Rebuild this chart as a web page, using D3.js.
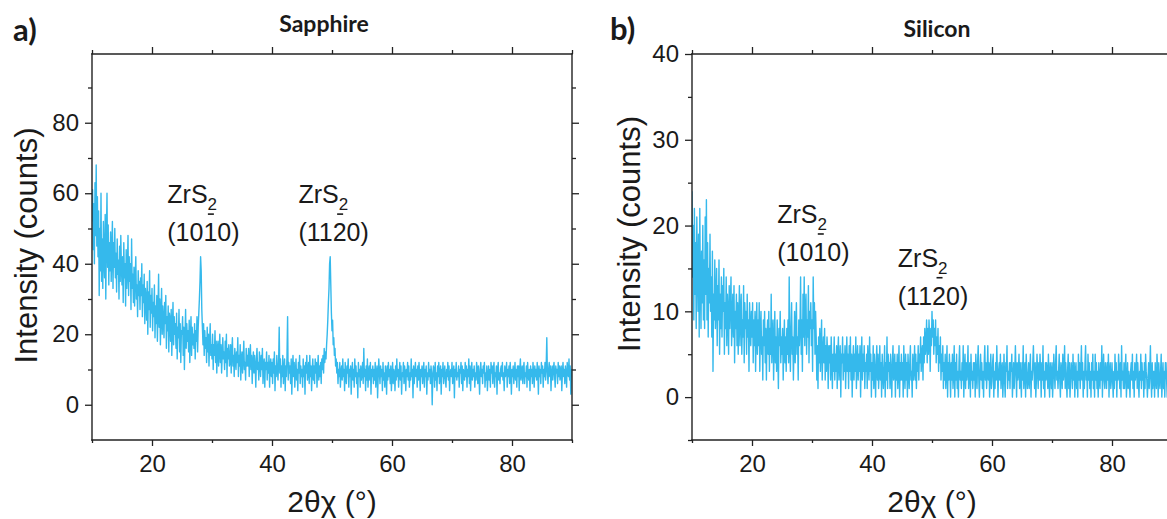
<!DOCTYPE html>
<html>
<head>
<script src="https://cdn.jsdelivr.net/npm/d3@7"></script>
<style>
body { margin: 0; background: #fff; }
svg text { font-family: "Liberation Sans", Arial, sans-serif; fill: #1a1a1a; }
.panel-title, .panel-tag { font-family: Lato, "Open Sans", sans-serif; font-weight: bold; }
</style>
</head>
<body>
<script>
// 2theta-chi scan, one sample every 0.1 deg from 10 to 90 deg
var twoThetaStart = 10, twoThetaStep = 0.1;

// Sapphire counts, one row per degree
var sapphireCounts = [
  52, 61, 44, 57, 40, 63, 48, 68, 45, 59,
  42, 55, 31, 50, 38, 60, 35, 47, 33, 52,
  41, 36, 54, 30, 48, 60, 39, 51, 34, 46,
  38, 49, 35, 44, 52, 33, 46, 39, 50, 36,
  43, 32, 47, 37, 41, 30, 45, 35, 48, 39,
  34, 42, 29, 46, 36, 40, 28, 44, 33, 38,
  48, 31, 42, 35, 40, 27, 47, 33, 37, 29,
  39, 28, 36, 42, 30, 34, 25, 38, 31, 35,
  27, 36, 31, 40, 25, 34, 29, 37, 23, 33,
  30, 24, 35, 20, 32, 27, 38, 22, 31, 26,
  33, 21, 29, 25, 34, 19, 28, 23, 31, 18,
  27, 37, 22, 30, 17, 26, 33, 20, 28, 24,
  19, 29, 23, 31, 16, 25, 21, 28, 15, 26,
  24, 18, 27, 14, 22, 29, 17, 25, 20, 23,
  16, 26, 13, 22, 19, 27, 15, 23, 12, 21,
  20, 25, 14, 22, 10, 19, 27, 16, 23, 18,
  21, 15, 24, 12, 19, 25, 14, 22, 17, 20,
  16, 23, 13, 21, 18, 25, 15, 22, 26, 30,
  35, 42, 38, 27, 22, 17, 23, 14, 21, 16,
  19, 12, 22, 15, 20, 11, 18, 23, 14, 17,
  13, 20, 10, 17, 14, 21, 12, 18, 9, 16,
  18, 11, 15, 20, 12, 17, 9, 14, 19, 13,
  15, 10, 18, 12, 20, 8, 16, 13, 17, 11,
  12, 17, 9, 15, 19, 11, 14, 8, 16, 13,
  10, 15, 12, 19, 8, 14, 11, 17, 7, 13,
  15, 9, 13, 18, 10, 12, 7, 16, 11, 14,
  11, 16, 8, 13, 17, 10, 14, 6, 12, 15,
  9, 14, 11, 5, 13, 16, 10, 12, 7, 15,
  12, 8, 14, 10, 16, 6, 11, 13, 5, 12,
  10, 15, 7, 12, 9, 14, 5, 11, 13, 8,
  12, 6, 13, 9, 15, 4, 11, 8, 14, 10,
  7, 12, 22, 9, 13, 5, 11, 8, 14, 6,
  10, 13, 4, 11, 8, 14, 25, 7, 12, 9,
  11, 6, 13, 3, 10, 14, 8, 12, 5, 9,
  13, 7, 10, 4, 12, 9, 14, 6, 11, 8,
  10, 5, 13, 8, 11, 3, 12, 9, 14, 7,
  9, 12, 6, 14, 8, 11, 4, 10, 13, 7,
  11, 6, 13, 9, 12, 5, 10, 14, 7, 11,
  8, 12, 6, 13, 10, 14, 9, 16, 12, 15,
  13, 17, 20, 24, 29, 33, 40, 42, 34, 26,
  21, 24, 17, 19, 14, 16, 11, 13, 9, 12,
  6, 10, 8, 12, 5, 9, 11, 7, 13, 8,
  10, 4, 12, 8, 6, 11, 9, 13, 5, 10,
  8, 11, 3, 9, 12, 7, 10, 5, 13, 8,
  11, 6, 9, 2, 12, 8, 10, 5, 11, 7,
  9, 12, 6, 16, 8, 10, 4, 11, 7, 13,
  5, 9, 11, 7, 12, 3, 10, 8, 11, 6,
  10, 7, 12, 5, 9, 11, 2, 8, 13, 9,
  6, 11, 8, 10, 4, 12, 7, 9, 5, 11,
  9, 3, 11, 7, 12, 8, 10, 6, 11, 4,
  8, 12, 6, 10, 9, 4, 11, 7, 13, 8,
  10, 5, 9, 12, 7, 11, 3, 9, 8, 12,
  6, 11, 9, 4, 10, 8, 12, 7, 11, 5,
  9, 7, 13, 8, 10, 2, 11, 6, 9, 12,
  8, 10, 5, 11, 7, 12, 9, 4, 10, 8,
  11, 6, 9, 12, 5, 10, 8, 11, 3, 9,
  7, 12, 8, 10, 6, 11, 9, 0, 8, 11,
  10, 5, 12, 7, 9, 4, 11, 8, 12, 6,
  9, 11, 3, 10, 8, 12, 6, 9, 11, 7,
  5, 10, 8, 12, 7, 11, 4, 9, 10, 8,
  12, 6, 9, 11, 2, 10, 8, 12, 7, 9,
  8, 11, 5, 10, 9, 12, 6, 11, 4, 10,
  9, 7, 12, 8, 11, 5, 10, 8, 13, 6,
  11, 4, 9, 12, 7, 10, 8, 11, 5, 9,
  7, 12, 10, 6, 11, 8, 3, 10, 12, 8,
  10, 6, 11, 9, 12, 5, 9, 7, 11, 4,
  8, 11, 7, 10, 5, 12, 9, 11, 6, 10,
  12, 5, 9, 8, 11, 3, 10, 12, 7, 9,
  6, 10, 11, 8, 12, 7, 9, 4, 11, 8,
  9, 12, 5, 10, 8, 11, 6, 12, 9, 3,
  10, 8, 11, 6, 9, 12, 7, 10, 5, 11,
  8, 11, 4, 10, 13, 7, 9, 11, 6, 10,
  12, 6, 9, 8, 11, 5, 12, 9, 7, 10,
  4, 11, 8, 10, 6, 12, 9, 5, 11, 8,
  10, 7, 12, 9, 3, 11, 8, 10, 6, 12,
  9, 11, 5, 10, 8, 12, 7, 11, 19, 9,
  6, 10, 12, 8, 11, 4, 9, 11, 7, 10,
  12, 8, 5, 11, 9, 10, 6, 12, 8, 11,
  7, 10, 11, 4, 9, 12, 8, 10, 6, 11,
  9, 5, 12, 10, 8, 13, 7, 11, 3, 10,
  8
];

// Silicon counts, one row per degree
var siliconCounts = [
  24, 14, 20, 9, 22, 12, 18, 8, 21, 15,
  10, 19, 7, 22, 13, 8, 17, 11, 20, 9,
  16, 8, 21, 12, 23, 9, 18, 7, 15, 11,
  19, 10, 14, 7, 17, 3, 12, 9, 16, 8,
  11, 15, 6, 13, 9, 16, 5, 12, 8, 14,
  7, 13, 10, 15, 5, 11, 8, 14, 6, 12,
  10, 5, 13, 8, 11, 14, 6, 9, 12, 7,
  13, 4, 10, 8, 12, 6, 11, 5, 9, 13,
  6, 10, 12, 5, 9, 7, 13, 4, 11, 8,
  10, 5, 12, 7, 9, 3, 11, 8, 6, 10,
  7, 11, 4, 9, 6, 10, 3, 8, 11, 5,
  9, 6, 11, 3, 8, 10, 5, 7, 2, 9,
  6, 10, 4, 8, 2, 7, 9, 5, 10, 3,
  8, 5, 12, 4, 7, 9, 2, 6, 10, 4,
  7, 3, 9, 5, 1, 8, 6, 10, 4, 7,
  5, 8, 2, 6, 9, 4, 7, 3, 8, 5,
  9, 4, 14, 6, 3, 8, 11, 5, 7, 2,
  6, 10, 4, 8, 11, 5, 7, 2, 9, 6,
  8, 14, 5, 9, 3, 12, 7, 14, 6, 10,
  12, 5, 9, 7, 13, 4, 10, 8, 11, 6,
  9, 3, 14, 8, 11, 5, 10, 7, 2, 6,
  1, 7, 4, 8, 3, 6, 9, 2, 5, 7,
  4, 8, 2, 6, 3, 7, 5, 1, 6, 4,
  6, 2, 7, 4, 1, 5, 3, 7, 2, 5,
  3, 6, 1, 5, 7, 2, 4, 6, 0, 5,
  4, 7, 2, 5, 3, 6, 1, 4, 7, 3,
  5, 1, 6, 3, 7, 2, 5, 0, 4, 6,
  2, 5, 3, 7, 1, 4, 6, 2, 5, 3,
  6, 0, 4, 7, 2, 5, 3, 6, 1, 4,
  3, 5, 1, 6, 4, 2, 7, 3, 5, 0,
  4, 2, 6, 1, 5, 3, 0, 4, 6, 2,
  5, 1, 3, 6, 2, 4, 0, 5, 3, 1,
  3, 6, 0, 4, 2, 7, 1, 5, 3, 4,
  1, 5, 3, 0, 4, 6, 2, 3, 5, 0,
  4, 2, 5, 1, 3, 6, 0, 4, 2, 5,
  2, 4, 0, 6, 3, 1, 5, 2, 4, 0,
  5, 3, 1, 4, 6, 2, 3, 0, 5, 2,
  3, 6, 2, 5, 1, 4, 3, 6, 2, 5,
  4, 7, 3, 5, 6, 2, 7, 4, 8, 5,
  6, 9, 4, 8, 5, 9, 7, 3, 8, 6,
  10, 7, 9, 5, 8, 6, 9, 4, 7, 5,
  8, 3, 6, 4, 7, 2, 5, 3, 6, 1,
  4, 2, 5, 1, 3, 6, 0, 4, 2, 5,
  3, 0, 4, 2, 5, 1, 3, 6, 0, 4,
  2, 5, 1, 3, 0, 4, 6, 2, 3, 1,
  4, 2, 6, 0, 3, 5, 1, 4, 2, 3,
  6, 1, 3, 4, 0, 5, 2, 3, 1, 4,
  2, 4, 0, 5, 3, 1, 4, 6, 2, 0,
  3, 5, 2, 4, 1, 3, 0, 4, 6, 2,
  4, 1, 3, 6, 2, 4, 0, 3, 5, 1,
  2, 4, 5, 0, 3, 1, 4, 2, 6, 3,
  0, 3, 4, 2, 5, 1, 3, 4, 0, 2,
  5, 2, 0, 4, 3, 6, 1, 3, 2, 4,
  1, 4, 3, 5, 0, 2, 4, 1, 3, 6,
  3, 0, 4, 2, 3, 5, 1, 4, 2, 0,
  4, 2, 6, 1, 3, 4, 0, 5, 3, 1,
  2, 4, 1, 3, 5, 0, 3, 2, 4, 6,
  3, 1, 4, 0, 2, 5, 3, 1, 4, 2,
  5, 3, 0, 4, 2, 6, 1, 3, 0, 4,
  2, 4, 3, 1, 5, 2, 0, 4, 3, 1,
  4, 0, 2, 5, 3, 1, 4, 6, 2, 3,
  1, 3, 5, 2, 0, 4, 3, 1, 5, 2,
  3, 6, 1, 4, 2, 0, 3, 5, 1, 4,
  0, 2, 4, 3, 1, 5, 2, 4, 0, 3,
  4, 1, 3, 0, 5, 2, 4, 1, 3, 6,
  2, 4, 0, 3, 1, 4, 6, 2, 3, 0,
  5, 2, 4, 1, 3, 0, 4, 2, 5, 1,
  3, 0, 5, 2, 4, 1, 3, 0, 4, 2,
  1, 4, 2, 6, 0, 3, 5, 2, 1, 4,
  3, 1, 4, 2, 5, 0, 3, 4, 1, 2,
  4, 2, 0, 3, 1, 5, 2, 4, 0, 3,
  2, 5, 3, 1, 4, 0, 6, 2, 3, 1,
  4, 1, 3, 5, 0, 2, 4, 1, 3, 2,
  0, 3, 4, 2, 5, 1, 3, 0, 4, 2,
  3, 5, 1, 4, 2, 0, 3, 2, 5, 1,
  4, 2, 3, 0, 4, 1, 5, 3, 2, 0,
  2, 4, 1, 3, 6, 2, 0, 4, 1, 3,
  3, 0, 4, 2, 1, 5, 3, 0, 4, 2,
  1, 3, 5, 0, 2, 4, 1, 3, 0, 4,
  4, 2, 0, 3, 5, 1, 4, 2, 3, 1,
  2
];

var xDomain = [10, 90];
var xMajorTicks = [20, 40, 60, 80];
var xMinorTicks = [10, 30, 50, 70, 90];

var sapphireYDomain = [-10, 99.5];
var sapphireYMajor = [0, 20, 40, 60, 80];
var sapphireYMinor = [10, 30, 50, 70, 90];

var siliconYDomain = [-5, 40];
var siliconYMajor = [0, 10, 20, 30, 40];
var siliconYMinor = [-5, 5, 15, 25, 35];

// peak labels: where the label starts (deg, counts) and which char gets the bar
var sapphirePeaks = [
  { x: 22.55, y: 57.2, hkl: "(1010)", bar: 3 },
  { x: 44.4,  y: 57.2, hkl: "(1120)", bar: 3 }
];
var siliconPeaks = [
  { x: 24.2, y: 20.3, hkl: "(1010)", bar: 3 },
  { x: 44.3, y: 15.2, hkl: "(1120)", bar: 3 }
];

var lineColor = "#35b9ec", axisColor = "#222";

var svg = d3.select("body").append("svg")
  .attr("width", 1167)
  .attr("height", 519);

function drawPanel(opts) {
  var left = opts.left, right = opts.right, top = 54, bottom = 440;
  var x = d3.scaleLinear().domain(xDomain).range([left, right]);
  var y = d3.scaleLinear().domain(opts.yDomain).range([bottom, top]);
  var g = svg.append("g");

  svg.append("clipPath").attr("id", "clip-" + opts.id)
    .append("rect")
    .attr("x", left).attr("y", top)
    .attr("width", right - left).attr("height", bottom - top);

  // data trace
  var line = d3.line()
    .x(function(d, i) { return x(twoThetaStart + i * twoThetaStep); })
    .y(function(d) { return y(d); });

  g.append("path")
    .datum(opts.counts)
    .attr("clip-path", "url(#clip-" + opts.id + ")")
    .attr("d", line)
    .attr("fill", "none")
    .attr("stroke", lineColor)
    .attr("stroke-width", 1.4)
    .attr("stroke-linejoin", "round");

  // axes: major + minor ticks on every drawn side
  function addAxis(axis, tx, ty, labels) {
    var a = g.append("g")
      .attr("transform", "translate(" + tx + "," + ty + ")")
      .call(axis);
    a.select(".domain").remove();
    a.attr("font-size", 24)
      .attr("font-family", "'Liberation Sans', Arial, sans-serif")
      .attr("color", axisColor);
    a.selectAll("line").attr("stroke-width", 1.3);
    if (!labels) a.selectAll("text").remove();
    return a;
  }

  addAxis(d3.axisBottom(x).tickValues(xMajorTicks).tickSize(6).tickPadding(9).tickFormat(d3.format("d")), 0, bottom, true);
  addAxis(d3.axisBottom(x).tickValues(xMinorTicks).tickSize(3), 0, bottom, false);
  addAxis(d3.axisTop(x).tickValues(xMajorTicks).tickSize(7), 0, top, false);
  addAxis(d3.axisTop(x).tickValues(xMinorTicks).tickSize(4), 0, top, false);
  addAxis(d3.axisLeft(y).tickValues(opts.yMajor).tickSize(7).tickPadding(6).tickFormat(d3.format("d")), left, 0, true);
  addAxis(d3.axisLeft(y).tickValues(opts.yMinor).tickSize(4), left, 0, false);
  if (opts.rightFrame) {
    addAxis(d3.axisRight(y).tickValues(opts.yMajor).tickSize(7), right, 0, false);
    addAxis(d3.axisRight(y).tickValues(opts.yMinor).tickSize(4), right, 0, false);
  }

  // frame
  var frame = [[left, top, left, bottom], [left, bottom, right, bottom], [left, top, right, top]];
  if (opts.rightFrame) frame.push([right, top, right, bottom]);
  g.selectAll(".frame").data(frame).enter().append("line")
    .attr("x1", function(d) { return d[0]; })
    .attr("y1", function(d) { return d[1]; })
    .attr("x2", function(d) { return d[2]; })
    .attr("y2", function(d) { return d[3]; })
    .attr("stroke", axisColor)
    .attr("stroke-width", 1.4)
    .attr("stroke-linecap", "square");

  // axis titles
  g.append("text")
    .attr("transform", "translate(" + opts.yTitleX + "," + opts.yTitleY + ") rotate(-90)")
    .attr("text-anchor", "middle")
    .attr("font-size", 31)
    .text("Intensity (counts)");

  g.append("text")
    .attr("x", (left + right) / 2)
    .attr("y", 512)
    .attr("text-anchor", "middle")
    .attr("font-size", 30)
    .text("2\u03B8\u03C7 (\u00B0)");

  // panel title and tag
  g.append("text").attr("class", "panel-title")
    .attr("x", opts.titleX).attr("y", opts.titleY)
    .attr("text-anchor", "middle")
    .attr("font-size", 23)
    .text(opts.title);

  g.append("text").attr("class", "panel-tag")
    .attr("x", opts.tagX).attr("y", opts.tagY)
    .attr("font-size", 31)
    .text(opts.tag);

  // peak labels
  opts.peaks.forEach(function(p) {
    var px = x(p.x), py = y(p.y);
    var t1 = g.append("text").attr("x", px).attr("y", py).attr("font-size", 25);
    t1.append("tspan").text("ZrS");
    t1.append("tspan").attr("font-size", 17).attr("dy", 7).text("2");

    var t2 = g.append("text").attr("x", px).attr("y", py + 38).attr("font-size", 25).text(p.hkl);
    var ext = t2.node().getExtentOfChar(p.bar);
    var cx = ext.x + ext.width / 2 + 0.5;
    g.append("line")
      .attr("x1", cx - 3).attr("x2", cx + 3)
      .attr("y1", py + 11).attr("y2", py + 11)
      .attr("stroke", "#1a1a1a")
      .attr("stroke-width", 1.6);
  });
}

drawPanel({
  id: "a", left: 92, right: 572, rightFrame: true,
  counts: sapphireCounts,
  yDomain: sapphireYDomain, yMajor: sapphireYMajor, yMinor: sapphireYMinor,
  yTitleX: 37, yTitleY: 245.5,
  title: "Sapphire", titleX: 324, titleY: 32,
  tag: "a)", tagX: 13, tagY: 41,
  peaks: sapphirePeaks
});

drawPanel({
  id: "b", left: 692, right: 1172, rightFrame: false,
  counts: siliconCounts,
  yDomain: siliconYDomain, yMajor: siliconYMajor, yMinor: siliconYMinor,
  yTitleX: 640, yTitleY: 234,
  title: "Silicon", titleX: 937, titleY: 37,
  tag: "b)", tagX: 610, tagY: 40,
  peaks: siliconPeaks
});
</script>
</body>
</html>
